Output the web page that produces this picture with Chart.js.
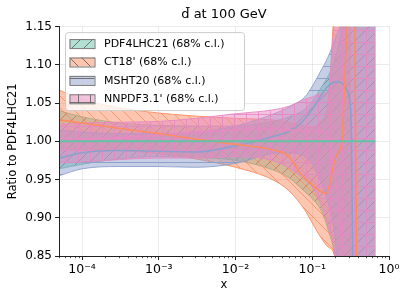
<!DOCTYPE html>
<html>
<head>
<meta charset="utf-8">
<script src="https://cdn.jsdelivr.net/npm/chart.js@4.4.0/dist/chart.umd.min.js"></script>
<style>
  html, body { margin: 0; padding: 0; background: #fff; }
</style>
</head>
<body>
<canvas id="ratioChart" width="407" height="300"></canvas>
<script>
// x grid shared by the uncertainty bands
const xBand = [5e-5, 1e-4, 3e-4, 1e-3, 3e-3, 1e-2, 3e-2, 0.05, 0.08, 0.1, 0.126, 0.16, 0.2, 0.25, 0.32, 0.4, 0.5, 0.66];

const pdf4lhcUp = [1.040, 1.032, 1.024, 1.021, 1.020, 1.020, 1.026, 1.032, 1.042, 1.052, 1.068, 1.085, 1.11, 1.16, 1.3, 1.3, 1.3, 1.3];
const pdf4lhcLo = [0.964, 0.970, 0.977, 0.980, 0.979, 0.975, 0.963, 0.952, 0.934, 0.925, 0.912, 0.885, 0.84, 0.7, 0.7, 0.7, 0.7, 0.7];
const ct18Up    = [1.067, 1.055, 1.044, 1.037, 1.033, 1.030, 1.028, 1.025, 1.020, 1.018, 1.025, 1.05, 1.2, 1.3, 1.3, null, null, null];
const ct18Lo    = [0.990, 0.990, 0.988, 0.984, 0.977, 0.966, 0.950, 0.935, 0.910, 0.893, 0.876, 0.862, 0.845, 0.7, 0.7, null, null, null];
const mshtUp    = [1.015, 1.012, 1.010, 1.010, 1.012, 1.020, 1.035, 1.045, 1.058, 1.072, 1.090, 1.110, 1.135, 1.17, 1.3, 1.3, 1.3, 1.3];
const mshtLo    = [0.955, 0.964, 0.967, 0.967, 0.966, 0.971, 0.984, 0.985, 0.980, 0.970, 0.950, 0.920, 0.870, 0.7, 0.7, 0.7, 0.7, 0.7];
const nnpdfUp   = [1.022, 1.024, 1.025, 1.026, 1.030, 1.036, 1.041, 1.046, 1.055, 1.058, 1.062, 1.065, 1.18, 1.3, 1.3, 1.3, 1.3, 1.3];
const nnpdfLo   = [0.972, 0.973, 0.976, 0.978, 0.978, 0.980, 0.975, 0.965, 0.950, 0.940, 0.920, 0.890, 0.845, 0.7, 0.7, 0.7, 0.7, 0.7];

// central values
const pdf4lhcX   = [5e-5, 0.66];
const pdf4lhcMid = [1.0, 1.0];
const ct18X   = [5e-5, 1e-4, 3e-4, 1e-3, 3e-3, 1e-2, 3e-2, 0.05, 0.07, 0.1, 0.125, 0.147, 0.165, 0.182, 0.212, 0.243, 0.26, 0.275, 0.29, 0.34, 0.35, 0.385];
const ct18Mid = [1.028, 1.024, 1.017, 1.010, 1.003, 0.996, 0.989, 0.980, 0.958, 0.943, 0.935, 0.932, 0.940, 0.962, 0.984, 1.000, 1.060, 1.120, 1.200, 1.250, 1.250, 0.700];
const mshtX   = [5e-5, 1e-4, 3e-4, 1e-3, 3e-3, 1e-2, 3e-2, 0.05, 0.07, 0.1, 0.154, 0.208, 0.246, 0.285, 0.307, 0.325, 0.335, 0.345];
const mshtMid = [0.978, 0.985, 0.988, 0.987, 0.986, 0.994, 1.006, 1.013, 1.023, 1.042, 1.070, 1.078, 1.076, 1.066, 1.054, 1.000, 0.850, 0.700];
const nnpdfX   = [5e-5, 1e-4, 3e-4, 1e-3, 3e-3, 1e-2, 3e-2, 0.05, 0.07, 0.1, 0.13, 0.155, 0.18, 0.2, 0.22, 0.25, 0.28];
const nnpdfMid = [1.000, 1.002, 1.005, 1.008, 1.012, 1.015, 1.016, 1.015, 1.014, 1.014, 1.013, 1.011, 0.984, 0.953, 0.914, 0.853, 0.790];

const seriesNames = ['PDF4LHC21 (68% c.l.)', "CT18' (68% c.l.)", 'MSHT20 (68% c.l.)', "NNPDF3.1' (68% c.l.)"];

const xTickValues = [1e-4, 1e-3, 1e-2, 1e-1, 1];
const xTickLabels = ['10\u207B\u2074', '10\u207B\u00B3', '10\u207B\u00B2', '10\u207B\u00B9', '10\u2070'];
const yTickValues = [0.85, 0.90, 0.95, 1.00, 1.05, 1.10, 1.15];

Chart.defaults.font.family = "'DejaVu Sans', sans-serif";
Chart.defaults.color = '#000';

const green = '#66c2a5', orange = '#fc8d62', blue = '#8da0cb', pink = '#e78ac3';
const rgba = (hex, a) => {
    const n = parseInt(hex.slice(1), 16);
    return `rgba(${n >> 16},${(n >> 8) & 255},${n & 255},${a})`;
};

// matplotlib style hatch fills
function hatch(fill, stroke, kind) {
    const s = 12;
    const c = document.createElement('canvas');
    c.width = s; c.height = s;
    const g = c.getContext('2d');
    g.fillStyle = fill;
    g.fillRect(0, 0, s, s);
    g.strokeStyle = stroke;
    g.lineWidth = 1;
    g.beginPath();
    if (kind === '/') {
        g.moveTo(0, s); g.lineTo(s, 0);
        g.moveTo(-2, 2); g.lineTo(2, -2);
        g.moveTo(s - 2, s + 2); g.lineTo(s + 2, s - 2);
    } else if (kind === '\\') {
        g.moveTo(0, 0); g.lineTo(s, s);
        g.moveTo(-2, s - 2); g.lineTo(2, s + 2);
        g.moveTo(s - 2, -2); g.lineTo(s + 2, 2);
    } else if (kind === '-') {
        g.moveTo(0, 6.5); g.lineTo(s, 6.5);
    } else if (kind === '+') {
        g.moveTo(0, 6.5); g.lineTo(s, 6.5);
        g.moveTo(6.5, 0); g.lineTo(6.5, s);
    }
    g.stroke();
    return g.createPattern(c, 'repeat');
}

const bandStyles = [
    { color: green,  kind: '/',  hatchColor: 'rgba(90,90,100,0.7)' },
    { color: orange, kind: '\\', hatchColor: rgba(orange, 0.8) },
    { color: blue,   kind: '-',  hatchColor: rgba(blue, 0.95) },
    { color: pink,   kind: '+',  hatchColor: rgba(pink, 0.85) }
];
const bandPatterns = bandStyles.map(b => hatch(rgba(b.color, 0.5), b.hatchColor, b.kind));
const legendPatterns = bandStyles.map(b => hatch(rgba(b.color, 0.5), 'rgba(90,90,90,0.8)', b.kind));

const pts = (xs, ys) => xs.map((x, i) => ({ x, y: ys[i] }));

function bandSets(i, up, lo, order) {
    const upper = pts(xBand, up);
    if (i === 3) upper.push({ x: 0.661, y: 0.7 });  // right edge of band outline
    return [
        {
            label: seriesNames[i], data: upper, fill: '+1',
            backgroundColor: bandPatterns[i], borderColor: rgba(bandStyles[i].color, 0.9),
            borderWidth: 1, pointRadius: 0, order
        },
        {
            label: seriesNames[i] + ' lower', data: pts(xBand, lo), fill: false,
            borderColor: rgba(bandStyles[i].color, 0.9), borderWidth: 1, pointRadius: 0, order: order - 1
        }
    ];
}

const centralLine = (xs, ys, color, width, order) => ({
    label: 'central', data: pts(xs, ys), fill: false, borderColor: color,
    borderWidth: width, pointRadius: 0, order
});

const datasets = [
    ...bandSets(0, pdf4lhcUp, pdf4lhcLo, 80),
    ...bandSets(1, ct18Up, ct18Lo, 70),
    ...bandSets(2, mshtUp, mshtLo, 60),
    ...bandSets(3, nnpdfUp, nnpdfLo, 50),
    centralLine(mshtX, mshtMid, blue, 1.6, 30),
    centralLine(nnpdfX, nnpdfMid, pink, 1.6, 25),
    centralLine(ct18X, ct18Mid, orange, 1.6, 20),
    centralLine(pdf4lhcX, pdf4lhcMid, green, 2, 0)
];

// minor ticks on the log axis
const minorTicks = {
    id: 'minorTicks',
    afterDraw(chart) {
        const s = chart.scales.x;
        const ctx = chart.ctx;
        ctx.save();
        ctx.strokeStyle = '#222';
        ctx.lineWidth = 0.8;
        ctx.beginPath();
        for (let e = -5; e <= 0; e++) {
            for (let m = 2; m <= 9; m++) {
                const v = m * Math.pow(10, e);
                if (v < s.min || v > s.max) continue;
                const px = Math.round(s.getPixelForValue(v)) + 0.5;
                ctx.moveTo(px, s.top);
                ctx.lineTo(px, s.top + 2.2);
            }
        }
        ctx.stroke();
        ctx.restore();
    }
};

// legend box in the upper left of the axes
const bandLegend = {
    id: 'bandLegend',
    afterDraw(chart) {
        const { ctx, chartArea } = chart;
        const x0 = chartArea.left + 6.5, y0 = chartArea.top + 6;
        ctx.save();
        ctx.beginPath();
        ctx.roundRect(x0, y0, 179, 78, 3);
        ctx.fillStyle = 'rgba(255,255,255,0.8)';
        ctx.fill();
        ctx.strokeStyle = '#cccccc';
        ctx.lineWidth = 1;
        ctx.stroke();
        ctx.font = "11px 'DejaVu Sans'";
        ctx.textBaseline = 'middle';
        seriesNames.forEach((name, i) => {
            const cy = y0 + 11 + i * 18.4;
            ctx.fillStyle = legendPatterns[i];
            ctx.fillRect(x0 + 4, cy - 4.5, 25, 9);
            ctx.strokeStyle = '#777';
            ctx.lineWidth = 1;
            ctx.strokeRect(x0 + 4 + 0.5, cy - 4.5 + 0.5, 25, 9);
            ctx.fillStyle = '#000';
            ctx.fillText(name, x0 + 38.5, cy + 0.5);
        });
        ctx.restore();
    }
};

new Chart(document.getElementById('ratioChart'), {
    type: 'line',
    data: { datasets },
    options: {
        responsive: false,
        animation: false,
        events: [],
        layout: { padding: { left: 0, right: 18, top: 0, bottom: 0 } },
        elements: { line: { cubicInterpolationMode: 'monotone' } },
        plugins: {
            legend: { display: false },
            tooltip: { enabled: false },
            title: {
                display: true,
                text: 'd\u0304 at 100 GeV',
                fullSize: false,
                font: { size: 13, weight: 'normal' },
                padding: { top: 7, bottom: 4 }
            }
        },
        scales: {
            x: {
                type: 'logarithmic',
                min: 5e-5,
                max: 1,
                afterFit: s => { s.height = 44; },
                afterBuildTicks: s => { s.ticks = xTickValues.map(v => ({ value: v, major: true })); },
                ticks: {
                    autoSkip: false,
                    maxRotation: 0,
                    padding: 2,
                    font: { size: 12.5 },
                    callback: v => {
                        const k = xTickValues.findIndex(t => Math.abs(t - v) / t < 1e-6);
                        return k >= 0 ? xTickLabels[k] : '';
                    }
                },
                grid: { color: 'rgba(0,0,0,0.08)', tickColor: '#222', tickLength: 4, lineWidth: 1 },
                border: { color: '#222', width: 1, z: 1 },
                title: { display: true, text: 'x', font: { size: 11.5 }, padding: { top: 0, bottom: 8 } }
            },
            y: {
                min: 0.85,
                max: 1.15,
                afterFit: s => { s.width = 59; },
                afterBuildTicks: s => { s.ticks = yTickValues.map(v => ({ value: v })); },
                ticks: { padding: 3, font: { size: 12 }, callback: v => v.toFixed(2) },
                grid: { color: 'rgba(0,0,0,0.08)', tickColor: '#222', tickLength: 4, lineWidth: 1 },
                border: { color: '#222', width: 1, z: 1 },
                title: { display: true, text: 'Ratio to PDF4LHC21', font: { size: 11.5 }, padding: { top: 6, bottom: 0 } }
            }
        }
    },
    plugins: [minorTicks, bandLegend]
});
</script>
</body>
</html>
